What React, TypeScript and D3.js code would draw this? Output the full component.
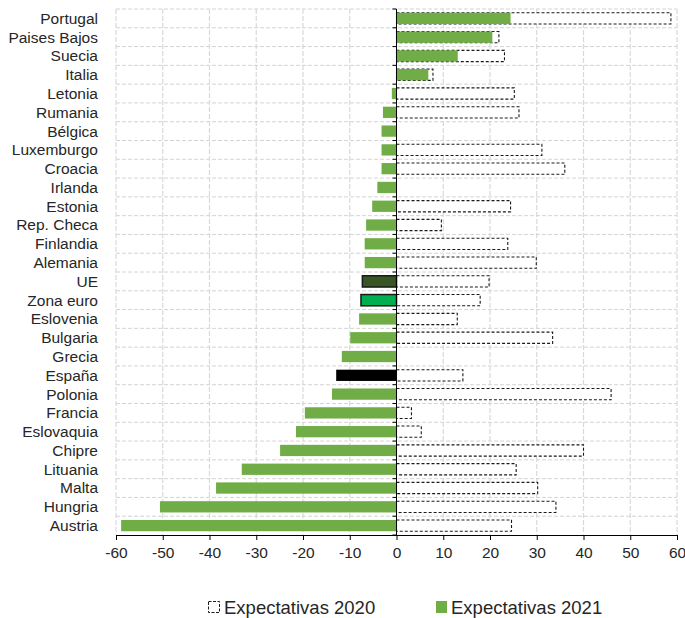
import * as d3 from "d3";
import { useEffect, useRef } from "react";

const countries = [
    "Portugal", "Paises Bajos", "Suecia", "Italia", "Letonia", "Rumania", "Bélgica",
    "Luxemburgo", "Croacia", "Irlanda", "Estonia", "Rep. Checa", "Finlandia", "Alemania",
    "UE", "Zona euro", "Eslovenia", "Bulgaria", "Grecia", "España", "Polonia", "Francia",
    "Eslovaquia", "Chipre", "Lituania", "Malta", "Hungria", "Austria",
];
const exp2020: (number | null)[] = [
    58.7, 21.9, 23.1, 7.8, 25.2, 26.2, null, 31.1, 36.0, null, 24.4, 9.6, 23.8, 29.9,
    19.8, 17.9, 13.0, 33.4, null, 14.2, 45.9, 3.2, 5.3, 40.0, 25.6, 30.2, 34.1, 24.6,
];
const exp2021 = [
    24.4, 20.5, 13.1, 6.8, -1.0, -2.9, -3.2, -3.2, -3.2, -4.1, -5.2, -6.5, -6.8, -6.8,
    -7.3, -7.6, -8.0, -9.9, -11.7, -12.9, -13.8, -19.6, -21.5, -24.9, -33.1, -38.6, -50.6, -58.9,
];
const xTicks = [-60, -50, -40, -30, -20, -10, 0, 10, 20, 30, 40, 50, 60];
const legendLabels = ["Expectativas 2020", "Expectativas 2021"];

const green = "#70ad47";
const special: Record<string, { fill: string, stroke?: string }> = {
    "UE": { fill: "#375623", stroke: "#1a1a1a" },
    "Zona euro": { fill: "#00b050", stroke: "#1a1a1a" },
    "España": { fill: "#000000" },
};

const App = () => {
    const width = 685;
    const height = 618;
    const marginLeft = 116;
    const marginRight = 8;
    const marginTop = 9;
    const plotBottom = 535;
    const font = "'Liberation Sans', Arial, sans-serif";

    const gx = useRef<SVGGElement | null>(null);

    const x = d3.scaleLinear().domain([-60, 60]).range([marginLeft, width - marginRight]);
    const y = d3.scaleBand().domain(countries).range([marginTop, plotBottom]).paddingInner(0.4).paddingOuter(0.2);
    const step = y.step();
    const bounds = d3.range(countries.length + 1).map(i => marginTop + i * step);

    useEffect(() => {
        d3.select(gx.current)
            .call(d3.axisBottom(x).tickValues(xTicks).tickSize(5).tickPadding(7).tickFormat(d => String(d)))
            .call(g => g.select(".domain").attr("stroke", "#000"))
            .call(g => g.selectAll(".tick line").attr("stroke", "#000"))
            .call(g => g.selectAll(".tick text").attr("fill", "#262626").attr("font-size", 15.5).attr("font-family", font));
    }, [x]);

    return (
        <div style={{ position: "absolute", left: 0, top: 0 }}>
            <svg width={width} height={height} style={{ display: "block", background: "#fff" }}>
                <g>
                    { xTicks.filter(d => d !== 0).map(d => (
                        <line key={d} x1={x(d)} x2={x(d)} y1={marginTop} y2={plotBottom} stroke="#d9d9d9" strokeWidth={1.2} strokeDasharray="5,2" />
                    )) }
                    { bounds.slice(0, -1).map((b, i) => (
                        <line key={i} x1={marginLeft} x2={width - marginRight} y1={b} y2={b} stroke="#d4d4d4" strokeDasharray="4,2" />
                    )) }
                </g>
                <g>
                    { countries.map((c, i) => exp2020[i] == null ? null : (
                        <rect key={c} x={x(0)} y={y(c)} width={x(exp2020[i] as number) - x(0)} height={y.bandwidth()}
                            fill="#fff" stroke="#1a1a1a" strokeWidth={1.1} strokeDasharray="3,2" />
                    )) }
                    { countries.map((c, i) => {
                        const v = exp2021[i];
                        const s = special[c];
                        return (
                            <rect key={c} x={x(Math.min(0, v))} y={y(c)} width={Math.abs(x(v) - x(0))} height={y.bandwidth()}
                                fill={s ? s.fill : green} stroke={s?.stroke ?? "none"} strokeWidth={s?.stroke ? 1.5 : 0} />
                        );
                    }) }
                </g>
                <g>
                    <line x1={x(0)} x2={x(0)} y1={marginTop} y2={plotBottom} stroke="#000" />
                    { bounds.map((b, i) => (
                        <line key={i} x1={x(0) - 4} x2={x(0)} y1={b} y2={b} stroke="#000" />
                    )) }
                </g>
                <g ref={gx} transform={`translate(0,${plotBottom})`} />
                <g fontFamily={font} fontSize={15.5} fill="#262626" textAnchor="end">
                    { countries.map(c => (
                        <text key={c} x={98} y={(y(c) ?? 0) + y.bandwidth() / 2} dy="0.35em">{c}</text>
                    )) }
                </g>
                <g fontFamily={font} fontSize={18.5} fill="#262626">
                    <rect x={208.5} y={601.5} width={11} height={11} fill="#fff" stroke="#1a1a1a" strokeDasharray="3,1.5" />
                    <text x={224} y={614}>{legendLabels[0]}</text>
                    <rect x={436} y={601} width={11} height={12} fill={green} />
                    <text x={451} y={614}>{legendLabels[1]}</text>
                </g>
            </svg>
        </div>
    );
};

export default App;
